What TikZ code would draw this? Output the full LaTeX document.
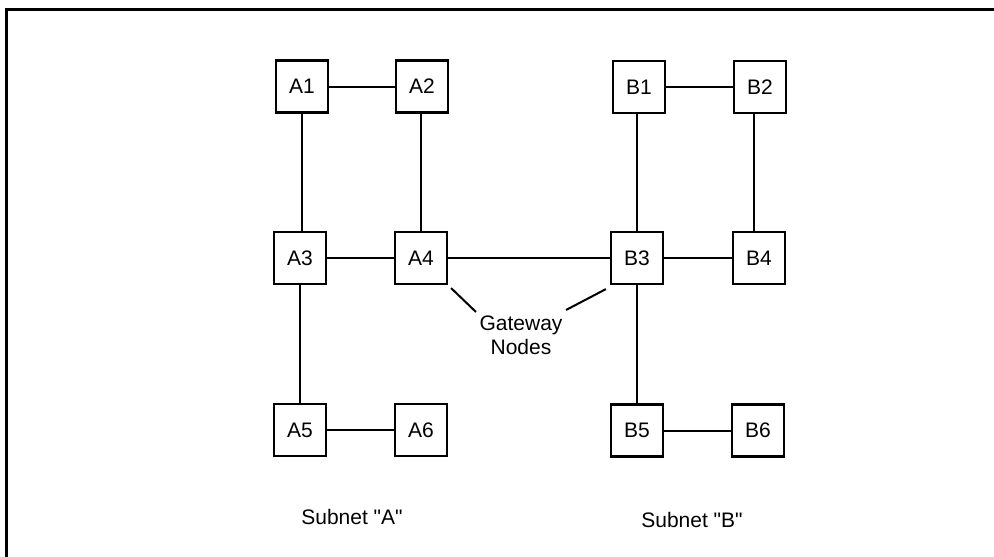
\documentclass[tikz,border=0pt]{standalone}
\usepackage{fontspec}
\setmainfont{Liberation Sans}
\begin{document}
\begin{tikzpicture}[x=1pt,y=-1pt,
  box/.style={draw,line width=2.2pt,minimum width=52pt,minimum height=52pt,inner sep=0pt,font=\fontsize{21}{24}\selectfont},
  link/.style={line width=2pt},
  lbl/.style={font=\fontsize{21}{24}\selectfont,align=center}]
\useasboundingbox (0,0) rectangle (994,557);
\draw[line width=3pt] (6,557) -- (6,9) -- (994,9);
\node[box] (A1) at (302,86.5) {A1};
\node[box] (A2) at (422,86.5) {A2};
\node[box] (A3) at (300,258) {A3};
\node[box] (A4) at (421,258) {A4};
\node[box] (A5) at (300,430) {A5};
\node[box] (A6) at (421,430) {A6};
\node[box] (B1) at (639,87) {B1};
\node[box] (B2) at (760,87) {B2};
\node[box] (B3) at (637,258) {B3};
\node[box] (B4) at (759,258) {B4};
\node[box] (B5) at (637,430.5) {B5};
\node[box] (B6) at (758,430.5) {B6};
\draw[link] (A1) -- (A2);
\draw[link] (B1) -- (B2);
\draw[link] (A1.south) -- (A1.south |- A3.north);
\draw[link] (A2.south -| A4.north) -- (A4.north);
\draw[link] (A3) -- (A4);
\draw[link] (A4) -- (B3);
\draw[link] (B3) -- (B4);
\draw[link] (A3.south) -- (A5.north);
\draw[link] (A5) -- (A6);
\draw[link] (B1.south -| B3.north) -- (B3.north);
\draw[link] ([xshift=-6pt]B2.south) -- ([xshift=-6pt]B2.south |- B4.north);
\draw[link] (B3.south) -- (B5.north);
\draw[link] (B5) -- (B6);
\node[lbl] (gw) at (521,335) {Gateway\\Nodes};
\coordinate (g1) at (476,312);
\coordinate (g2) at (566,310);
\draw[link] ([shift={(3pt,-3pt)}]A4.south east) -- (g1);
\draw[link] ([shift={(-4pt,-4pt)}]B3.south west) -- (g2);
\node[lbl] (sa) at (352,517) {Subnet \textquotedbl A\textquotedbl};
\node[lbl] (sb) at (692,520) {Subnet \textquotedbl B\textquotedbl};
\end{tikzpicture}
\end{document}
